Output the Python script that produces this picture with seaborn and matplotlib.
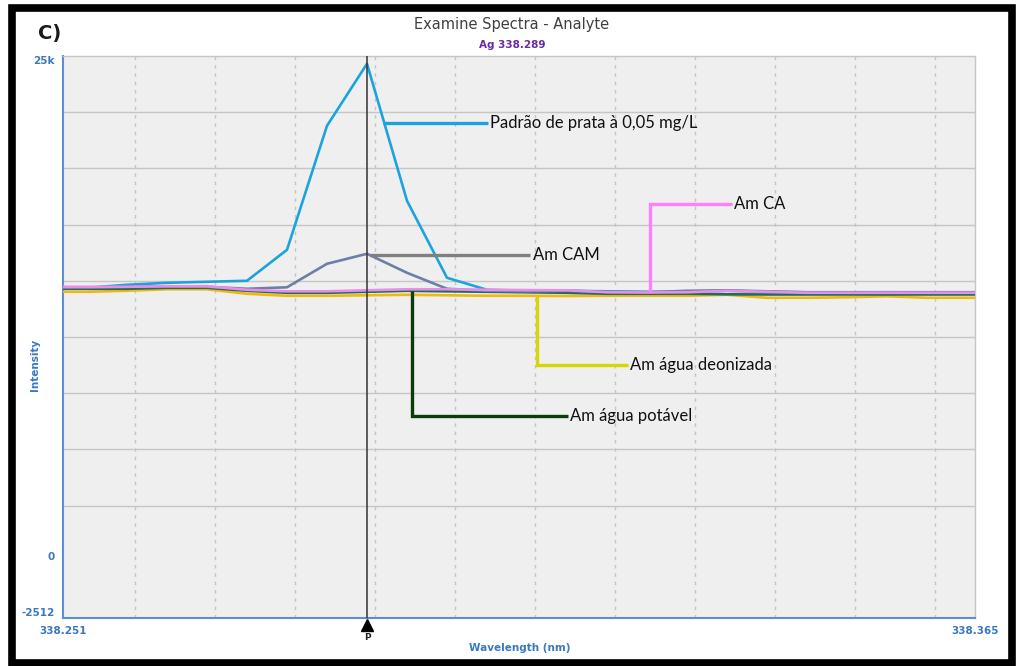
import numpy as np
import pandas as pd
import matplotlib
matplotlib.use("Agg")
import matplotlib.pyplot as plt
import matplotlib.transforms as mtransforms
from matplotlib.patches import Rectangle
from matplotlib.ticker import MultipleLocator
import seaborn as sns

# ---------------- data ----------------
wavelength = [338.251, 338.254, 338.259, 338.264, 338.269, 338.274, 338.279,
              338.284, 338.289, 338.294, 338.299, 338.304, 338.309, 338.314,
              338.319, 338.324, 338.329, 338.334, 338.339, 338.344, 338.349,
              338.354, 338.359, 338.364, 338.365]

padrao = [12248, 12248, 12382, 12471, 12516, 12561, 13946, 19489, 22261, 16137,
          12695, 12158, 12114, 12114, 12091, 12069, 12069, 12114, 12069, 12047,
          12047, 12047, 12047, 12047, 12047]
am_cam = [12248, 12248, 12292, 12315, 12292, 12203, 12270, 13321, 13768, 12918,
          12203, 12114, 12091, 12114, 12069, 12047, 12114, 12136, 12091, 12047,
          12047, 12047, 12047, 12047, 12047]
am_ca = [12292, 12292, 12292, 12315, 12315, 12158, 12091, 12091, 12136, 12181,
         12181, 12158, 12145, 12136, 12047, 12038, 12047, 12114, 12069, 12024,
         12024, 12024, 12024, 12024, 12024]
am_deonizada = [12069, 12069, 12114, 12181, 12181, 11980, 11890, 11890, 11913,
                11935, 11913, 11890, 11890, 11881, 11890, 11890, 11890, 11935,
                11801, 11801, 11823, 11868, 11801, 11801, 11801]
am_potavel = [12203, 12203, 12203, 12248, 12248, 12114, 12024, 12024, 12069,
              12114, 12091, 12069, 12047, 12024, 11980, 11980, 11980, 11957,
              11948, 11948, 11948, 11948, 11948, 11948, 11948]

# drawing order: first listed is drawn at the bottom
series_names = ["Padrão de prata à 0,05 mg/L", "Am água deonizada",
                "Am água potável", "Am CAM", "Am CA"]
series_values = [padrao, am_deonizada, am_potavel, am_cam, am_ca]
series_colors = ["#1ca3de", "#f0b910", "#1b6e58", "#6e7fa6", "#ea8cea"]

peak_wavelength = 338.289
x_limits = [338.251, 338.365]
y_limits = [-2512, 22608]
y_tick_values = [-2512, 0, 22608]
y_tick_labels = ["-2512", "0", "25k"]
x_tick_values = [338.251, 338.365]
x_tick_labels = ["338.251", "338.365"]

# annotation leaders
label_names = ["Padrão de prata à 0,05 mg/L", "Am CAM", "Am CA",
               "Am água deonizada", "Am água potável"]
label_anchor_x = [338.2910, 338.2894, 338.3244, 338.3103, 338.2946]
label_y = [19623, 13723, 16003, 8806, 6526]
label_end_x = [338.3041, 338.3094, 338.3346, 338.3216, 338.3141]
label_line_colors = ["#1ca3de", "#808080", "#ff80ff", "#d6d600", "#0b3d0b"]
label_series = [padrao, am_cam, am_ca, am_deonizada, am_potavel]

# ---------------- figure ----------------
sns.set_style("white")
plt.rcParams["font.family"] = ["DejaVu Sans"]

fig = plt.figure(figsize=(10.16, 6.66), dpi=100)
ax = fig.add_axes([63 / 1016, 1 - 618 / 666, (975 - 63) / 1016, (618 - 56) / 666])
ax.set_facecolor("#efefef")

rows = []
for name, vals in zip(series_names, series_values):
    for w, v in zip(wavelength, vals):
        rows.append({"Wavelength": w, "Intensity": v, "Series": name})
df = pd.DataFrame(rows)

# grid
ax.set_xlim(*x_limits)
ax.set_ylim(*y_limits)
ax.yaxis.set_minor_locator(MultipleLocator(2512))
ax.xaxis.set_minor_locator(MultipleLocator(0.01))
ax.grid(which="minor", axis="y", color="#c6c6c6", lw=1.0, ls="-")
ax.grid(which="minor", axis="x", color="#c4c4c4", lw=1.0, ls=(0, (2.5, 3.5)))
ax.grid(which="major", visible=False)
ax.set_axisbelow(True)

sns.lineplot(data=df, x="Wavelength", y="Intensity", hue="Series",
             hue_order=series_names, palette=series_colors, lw=1.9,
             legend=False, ax=ax, zorder=3)

# peak marker line
ax.axvline(peak_wavelength, color="#333333", lw=1.1, zorder=4)
trans = mtransforms.blended_transform_factory(ax.transData, ax.transAxes)
ax.plot([peak_wavelength], [-0.013], marker="^", ms=9, color="black",
        transform=trans, clip_on=False, zorder=6)
ax.text(peak_wavelength, -0.034, "P", transform=trans, ha="center", va="center",
        fontsize=6.5, fontweight="bold", color="#222222")

# annotation leaders
for name, ax0, ly, ex, col, vals in zip(label_names, label_anchor_x, label_y,
                                        label_end_x, label_line_colors, label_series):
    cy = float(np.interp(ax0, wavelength, vals))
    if name in ("Padrão de prata à 0,05 mg/L", "Am CAM"):
        ax.plot([ax0, ex], [ly, ly], color=col, lw=2.4, zorder=5,
                solid_capstyle="butt")
    else:
        ax.plot([ax0, ax0, ex], [cy, ly, ly], color=col, lw=2.4, zorder=5,
                solid_capstyle="butt", solid_joinstyle="miter")
    ax.text(ex + 0.0003, ly, name, ha="left", va="center", fontsize=12,
            family=["Lato", "DejaVu Sans"], color="#111111", zorder=6)

# spines
for s in ["top", "right"]:
    ax.spines[s].set_color("#c6c6c6")
    ax.spines[s].set_linewidth(1.0)
for s in ["left", "bottom"]:
    ax.spines[s].set_color("#5b8fd0")
    ax.spines[s].set_linewidth(1.5)

# ticks
ax.set_yticks(y_tick_values)
ax.set_yticklabels(y_tick_labels)
ax.set_xticks(x_tick_values)
ax.set_xticklabels(x_tick_labels)
ax.tick_params(which="minor", length=0)
ax.tick_params(which="major", axis="both", length=4, width=1.2, color="#5b8fd0",
               labelcolor="#3a78c0", labelsize=7.5, pad=2)
for lab in ax.get_yticklabels() + ax.get_xticklabels():
    lab.set_fontweight("bold")
for lab, va in zip(ax.get_yticklabels(), ["bottom", "bottom", "top"]):
    lab.set_va(va)
ax.set_xlabel("")
ax.set_ylabel("")

fig.text(520 / 1016, 1 - 648 / 666, "Wavelength (nm)", ha="center", va="center",
         fontsize=7.5, fontweight="bold", color="#3a78c0")
fig.text(35 / 1016, 1 - 365 / 666, "Intensity", ha="center", va="center",
         rotation=90, fontsize=7.5, fontweight="bold", color="#3a78c0")

# titles
fig.text(512 / 1016, 1 - 25 / 666, "Examine Spectra - Analyte", ha="center",
         va="center", fontsize=10.5, color="#404040")
fig.text(512 / 1016, 1 - 45 / 666, "Ag 338.289", ha="center", va="center",
         fontsize=7.5, fontweight="bold", color="#6a2aa0")
fig.text(38 / 1016, 1 - 34 / 666, "C)", ha="left", va="center", fontsize=14,
         fontweight="bold", color="#1a1a1a")

# black frame
fig.patches.append(Rectangle((11.5 / 1016, 3.5 / 666), (1012 - 11.5) / 1016,
                             (658 - 3.5) / 666, transform=fig.transFigure,
                             fill=False, edgecolor="black", lw=5.5))

fig.savefig("out.png", dpi=100)
